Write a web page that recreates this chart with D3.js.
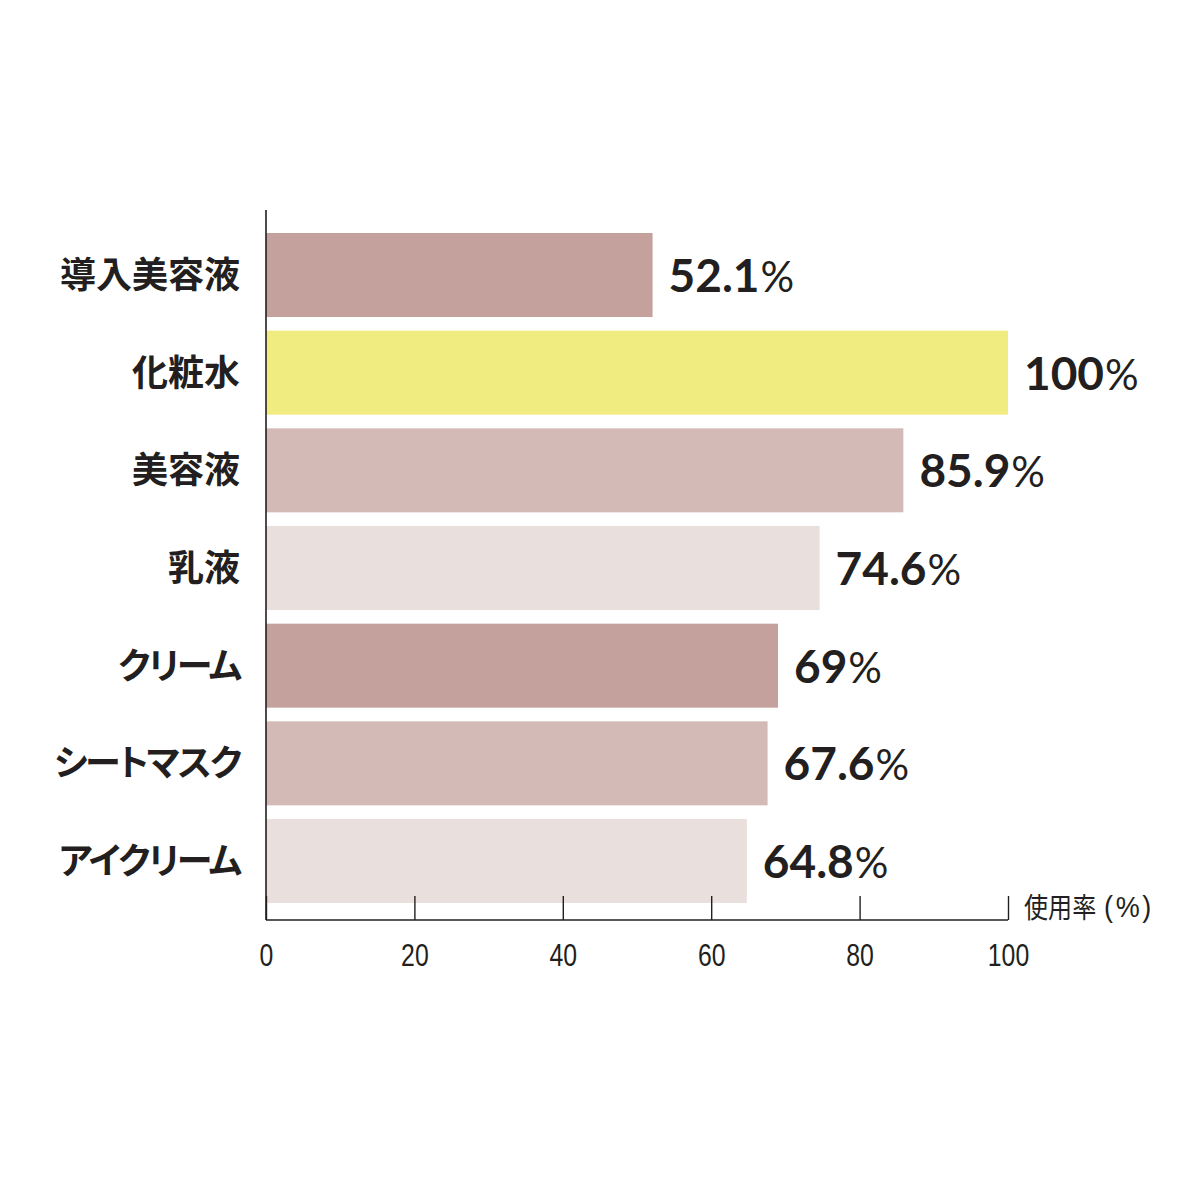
<!DOCTYPE html>
<html>
<head>
<meta charset="utf-8">
<script src="https://cdn.jsdelivr.net/npm/d3@7"></script>
<style>
  html, body { margin: 0; padding: 0; background: #ffffff; }
  svg { display: block; }
</style>
</head>
<body>
<div id="chart"></div>
<script>
// Usage rate of skincare items (%)
const categories = ["導入美容液", "化粧水", "美容液", "乳液", "クリーム", "シートマスク", "アイクリーム"];
const values = [52.1, 100, 85.9, 74.6, 69, 67.6, 64.8];
const valueLabels = ["52.1", "100", "85.9", "74.6", "69", "67.6", "64.8"];
const barColors = ["#c4a19d", "#f1ec7f", "#d4bab7", "#e9dfdc", "#c4a19d", "#d4bab7", "#e9dfdc"];
const tickValues = [0, 20, 40, 60, 80, 100];
const axisTitle = "使用率";
const axisUnit = "(%)";

const width = 1200, height = 1200;
const svg = d3.select("#chart").append("svg")
  .attr("width", width).attr("height", height);

const x = d3.scaleLinear().domain([0, 100]).range([266, 1008]);
const y = d3.scaleBand().domain(categories).range([233, 903]).paddingInner(0.14).paddingOuter(0);

const ink = "#231f20";
const jpFont = "'Noto Sans CJK JP', 'Noto Sans', sans-serif";
const numFont = "Lato, 'Noto Sans', sans-serif";
const tickFont = "'Liberation Sans', Arial, sans-serif";
const isKana = s => /^[\u30A0-\u30FF]+$/.test(s);

// Bars
svg.append("g").selectAll("rect")
  .data(categories)
  .join("rect")
  .attr("x", x(0))
  .attr("y", d => y(d))
  .attr("width", (d, i) => x(values[i]) - x(0))
  .attr("height", y.bandwidth())
  .attr("fill", (d, i) => barColors[i]);

// Value labels
const vl = svg.append("g").selectAll("text")
  .data(categories)
  .join("text")
  .attr("x", (d, i) => x(values[i]) + 16)
  .attr("y", d => y(d) + y.bandwidth() / 2 + 17)
  .attr("fill", ink)
  .style("font-family", numFont)
  .style("font-size", "46px");
vl.append("tspan")
  .attr("font-weight", 700)
  .text((d, i) => valueLabels[i]);
vl.append("tspan")
  .attr("font-weight", 400)
  .attr("font-size", "42px")
  .attr("dx", 1)
  .text("%");

// Category labels (proportional kana spacing)
svg.append("g").selectAll("text")
  .data(categories)
  .join("text")
  .attr("x", 240)
  .attr("y", d => y(d) + y.bandwidth() / 2 + 13)
  .attr("text-anchor", "end")
  .attr("fill", ink)
  .style("font-family", jpFont)
  .style("font-weight", 700)
  .style("font-size", "36px")
  .style("font-feature-settings", "'palt' 1")
  .style("letter-spacing", d => isKana(d) ? "-2px" : "0px")
  .text(d => d);

// Vertical axis line
svg.append("line")
  .attr("x1", x(0)).attr("x2", x(0))
  .attr("y1", 210).attr("y2", 920)
  .attr("stroke", ink).attr("stroke-width", 1.6);

// Horizontal axis with upward ticks
const xAxis = d3.axisBottom(x).tickValues(tickValues).tickSize(0).tickPadding(0);
const gx = svg.append("g").attr("transform", "translate(0,920)").call(xAxis);
gx.select(".domain").remove();
gx.selectAll(".tick text").remove();
gx.append("line")
  .attr("x1", x(0)).attr("x2", x(100))
  .attr("stroke", ink).attr("stroke-width", 1.6);
gx.selectAll(".tick").append("line")
  .attr("y1", 0).attr("y2", -24)
  .attr("stroke", ink).attr("stroke-width", 1.4);
gx.selectAll(".tick").append("text")
  .attr("transform", "translate(0,46) scale(0.8,1)")
  .attr("text-anchor", "middle")
  .attr("fill", ink)
  .style("font-family", tickFont)
  .style("font-size", "31px")
  .text(d => d);

// Axis title
svg.append("text")
  .attr("transform", "translate(1024,918) scale(0.86,1)")
  .attr("fill", ink)
  .style("font-family", jpFont)
  .style("font-size", "28px")
  .text(axisTitle);
svg.append("text")
  .attr("transform", "translate(1104,917) scale(0.9,1)")
  .attr("fill", ink)
  .style("font-family", tickFont)
  .style("font-size", "30px")
  .style("letter-spacing", "3px")
  .text(axisUnit);
</script>
</body>
</html>
